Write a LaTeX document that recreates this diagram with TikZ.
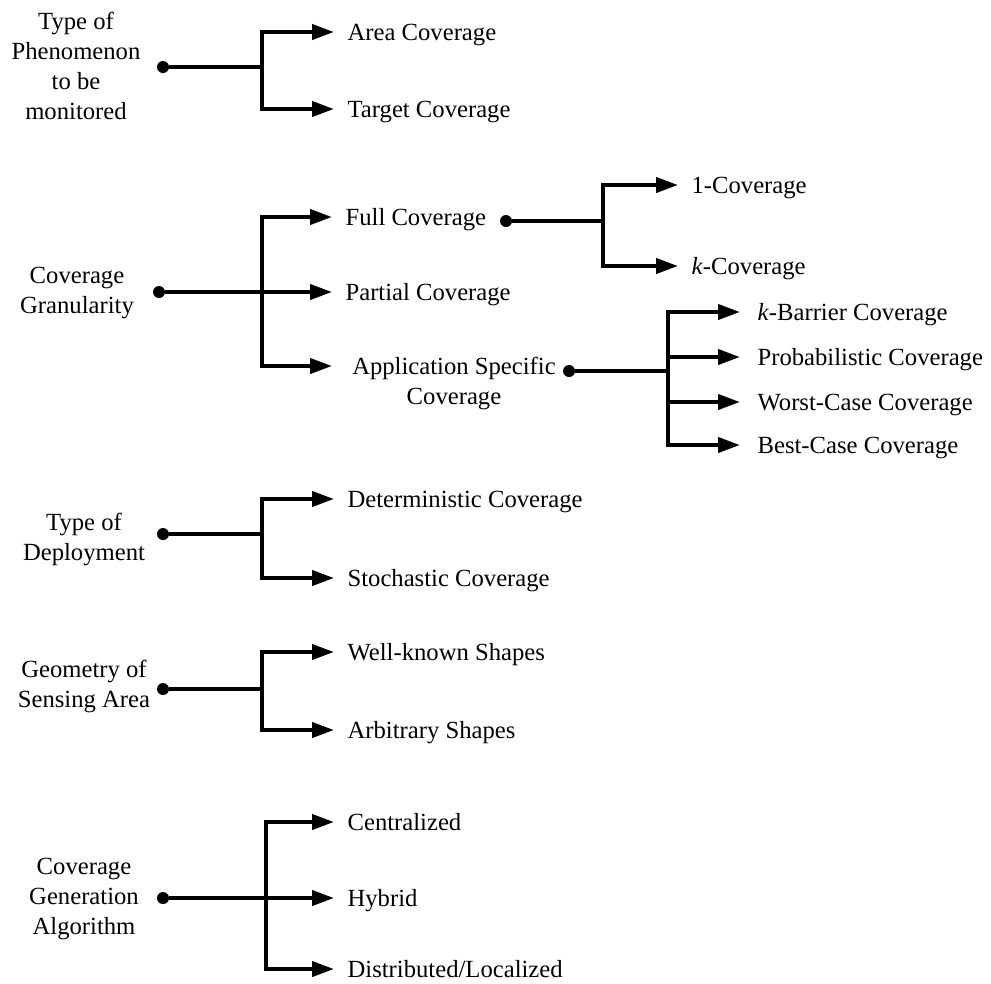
\documentclass[tikz,border=0pt]{standalone}
\usepackage{fontspec}
\setmainfont{Liberation Serif}
\usetikzlibrary{arrows.meta}

\tikzset{
  every node/.style={font=\fontsize{18.5}{22.5}\selectfont},
  lbl/.style={align=center, inner sep=0pt},
  leaf/.style={anchor=west, inner xsep=10pt, inner ysep=0pt, text height=12.25pt, text depth=0pt},
  leafwide/.style={leaf, inner xsep=13pt},
  dot/.style={circle, fill=black, inner sep=0pt, minimum size=9pt},
  wire/.style={line width=3pt},
  trunk/.style={line width=3pt, line cap=rect},
  arr/.style={line width=3pt, -{Triangle[length=16.5pt,width=11.25pt]}},
}

\begin{document}
\begin{tikzpicture}[x=0.75pt, y=-0.75pt]
\useasboundingbox (0,0) rectangle (991,983);

% --- Type of phenomenon ---
\node[lbl] (phen) at (76,66) {Type of\\Phenomenon\\to be\\monitored};
\node[dot] (d1) at (163,67) {};
\node[leaf] (area) at (334,32) {Area Coverage};
\node[leaf] (target) at (334,109) {Target Coverage};
\coordinate (j1) at (262,67);
\coordinate (j1t) at (j1 |- area.west);
\coordinate (j1b) at (j1 |- target.west);
\draw[wire] (d1) -- (j1);
\draw[trunk] (j1t) -- (j1b);
\draw[arr] (j1t) -- (area.west);
\draw[arr] (j1b) -- (target.west);

% --- Coverage granularity ---
\node[lbl] (gran) at (77,293) {Coverage\\Granularity};
\node[dot] (d2) at (159,292) {};
\node[leaf] (full) at (332,217) {Full Coverage};
\node[leaf] (partial) at (332,292) {Partial Coverage};
\node[leaf, inner xsep=15pt] (app) at (332,366) {Application Specific};
\node[anchor=south, inner sep=0pt, text height=12.25pt, text depth=0pt] (appc)
  at ([yshift=-22.5pt]app.south) {Coverage};
\coordinate (j2) at (262,292);
\coordinate (j2t) at (j2 |- full.west);
\coordinate (j2b) at (j2 |- app.west);
\draw[wire] (d2) -- (j2);
\draw[trunk] (j2t) -- (j2b);
\draw[arr] (j2t) -- (full.west);
\draw[arr] (j2) -- (partial.west);
\draw[arr] (j2b) -- (app.west);

% full coverage: 1- and k-coverage
\node[dot] (d21) at (506,221) {};
\node[leaf] (one) at (678,185) {1-Coverage};
\node[leaf] (kcov) at (678,266) {\textit{k}-Coverage};
\coordinate (j21) at (603,221);
\coordinate (j21t) at (j21 |- one.west);
\coordinate (j21b) at (j21 |- kcov.west);
\draw[wire] (d21) -- (j21);
\draw[trunk] (j21t) -- (j21b);
\draw[arr] (j21t) -- (one.west);
\draw[arr] (j21b) -- (kcov.west);

% application specific coverage
\node[dot] (d23) at (569,371) {};
\node[leafwide] (barrier) at (740,312) {\textit{k}-Barrier Coverage};
\node[leafwide] (prob) at (740,357) {Probabilistic Coverage};
\node[leafwide] (worst) at (740,402) {Worst-Case Coverage};
\node[leafwide] (best) at (740,445) {Best-Case Coverage};
\coordinate (j23) at (668,371);
\coordinate (j23a) at (j23 |- barrier.west);
\coordinate (j23b) at (j23 |- prob.west);
\coordinate (j23c) at (j23 |- worst.west);
\coordinate (j23d) at (j23 |- best.west);
\draw[wire] (d23) -- (j23);
\draw[trunk] (j23a) -- (j23d);
\draw[arr] (j23a) -- (barrier.west);
\draw[arr] (j23b) -- (prob.west);
\draw[arr] (j23c) -- (worst.west);
\draw[arr] (j23d) -- (best.west);

% --- Type of deployment ---
\node[lbl] (deploy) at (84,539) {Type of\\Deployment};
\node[dot] (d3) at (163,534) {};
\node[leaf] (determ) at (334,499) {Deterministic Coverage};
\node[leaf] (stoch) at (334,578) {Stochastic Coverage};
\coordinate (j3) at (262,534);
\coordinate (j3t) at (j3 |- determ.west);
\coordinate (j3b) at (j3 |- stoch.west);
\draw[wire] (d3) -- (j3);
\draw[trunk] (j3t) -- (j3b);
\draw[arr] (j3t) -- (determ.west);
\draw[arr] (j3b) -- (stoch.west);

% --- Geometry of sensing area ---
\node[lbl] (geom) at (84,686) {Geometry of\\Sensing Area};
\node[dot] (d4) at (163,689) {};
\node[leaf] (wellknown) at (334,652) {Well-known Shapes};
\node[leaf] (arbitrary) at (334,730) {Arbitrary Shapes};
\coordinate (j4) at (262,689);
\coordinate (j4t) at (j4 |- wellknown.west);
\coordinate (j4b) at (j4 |- arbitrary.west);
\draw[wire] (d4) -- (j4);
\draw[trunk] (j4t) -- (j4b);
\draw[arr] (j4t) -- (wellknown.west);
\draw[arr] (j4b) -- (arbitrary.west);

% --- Coverage generation algorithm ---
\node[lbl] (algo) at (84,899) {Coverage\\Generation\\Algorithm};
\node[dot] (d5) at (163,898) {};
\node[leaf] (central) at (334,822) {Centralized};
\node[leaf] (hybrid) at (334,898) {Hybrid};
\node[leaf] (distrib) at (334,969) {Distributed/Localized};
\coordinate (j5) at (266,898);
\coordinate (j5t) at (j5 |- central.west);
\coordinate (j5b) at (j5 |- distrib.west);
\draw[wire] (d5) -- (j5);
\draw[trunk] (j5t) -- (j5b);
\draw[arr] (j5t) -- (central.west);
\draw[arr] (j5) -- (hybrid.west);
\draw[arr] (j5b) -- (distrib.west);
\end{tikzpicture}
\end{document}
